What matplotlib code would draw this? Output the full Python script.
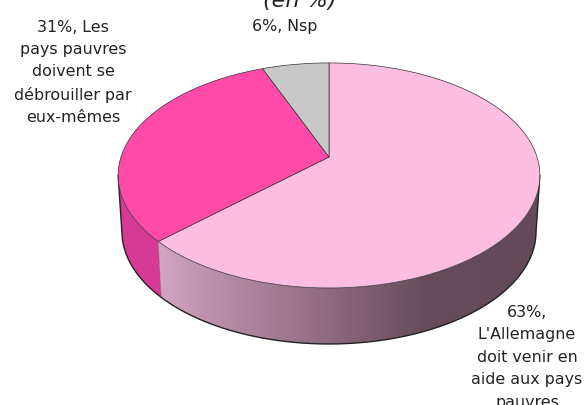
import numpy as np
import matplotlib
matplotlib.use("Agg")
import matplotlib.pyplot as plt
from matplotlib.colors import LinearSegmentedColormap
from matplotlib.patches import Polygon

shares = [63, 31, 6]
labels = ["63%,\nL'Allemagne\ndoit venir en\naide aux pays\npauvres",
          "31%, Les\npays pauvres\ndoivent se\ndébrouiller par\neux-mêmes",
          "6%, Nsp"]
colors = ["#FBBDE0", "#FF4AA8", "#C8C8C8"]
subtitle = "(en %)"

plt.rcParams['font.family'] = ['DejaVu Sans']

# perspective projection of the pie disc, fitted on the picture
cx, cy = 329, 157
B, A, k = 208, 109.5, 0.164
depth = 56


def project(t, drop=0.0):
    c, s = np.cos(t), np.sin(t)
    d = 1 + k * s
    shrink = 1 - 0.018 * drop / depth
    return cx + shrink * B * c / d, cy - A * s / d + drop


fig = plt.figure(figsize=(5.84, 4.05), dpi=100)
ax = fig.add_axes([0, 0, 1, 1])
ax.set_xlim(0, 584)
ax.set_ylim(405, 0)
ax.axis('off')

# slice limits, clockwise from the top
cuts = np.cumsum([0] + shares) / 100
angles = np.pi / 2 - 2 * np.pi * cuts

# side wall of each slice, only the part facing us (down to the widest points)
side_cm = LinearSegmentedColormap.from_list(
    "side", [(0, "#D2A6C0"), (0.12, "#BE92AC"), (0.45, "#8E6A7E"), (0.7, "#664C5A"), (1, "#644A58")])
grad = np.linspace(0, 1, 400).reshape(1, -1)
for i in range(2):
    t = np.linspace(angles[i], angles[i + 1], 400)
    t = t[np.sin(t) < -k]
    x1, y1 = project(t)
    x2, y2 = project(t[::-1], depth)
    wall = Polygon(np.column_stack([np.r_[x1, x2], np.r_[y1, y2]]), closed=True,
                   facecolor="#D63A94" if i == 1 else "none", edgecolor="none", zorder=1)
    ax.add_patch(wall)
    if i == 0:
        im = ax.imshow(grad, cmap=side_cm, extent=[158, 540, 345, 180], aspect='auto', zorder=1)
        im.set_clip_path(wall)
        ax.set_xlim(0, 584)
        ax.set_ylim(405, 0)

# outer outline of the wall
t = np.linspace(np.pi, 2 * np.pi, 400)
t = t[np.sin(t) < -k]
x1, y1 = project(t)
x2, y2 = project(t, depth)
ax.plot(np.r_[x1[0], x2, x1[-1]], np.r_[y1[0], y2, y1[-1]], color="#222222", lw=1.0, zorder=2)
x3, y3 = project(angles[1])
x4, y4 = project(angles[1], depth)
ax.plot([x3, x4], [y3, y4], color="#555555", lw=0.5, ls=':', zorder=2)

# top of the pie
for i in range(3):
    t = np.linspace(angles[i], angles[i + 1], 300)
    x, y = project(t)
    pts = np.column_stack([np.r_[cx, x], np.r_[cy, y]])
    ax.add_patch(Polygon(pts, closed=True, facecolor=colors[i], edgecolor="#333333", lw=0.5, zorder=3))

ax.text(527, 305, labels[0], ha='center', va='top', fontsize=11.4, color="#222222", linespacing=1.62)
ax.text(73, 19.5, labels[1], ha='center', va='top', fontsize=11.4, color="#222222", linespacing=1.6)
ax.text(285, 19.5, labels[2], ha='center', va='top', fontsize=11.4, color="#222222")
ax.text(300, 7, subtitle, ha='center', va='baseline', fontsize=16, style='italic', color="#222222")

fig.savefig("out.png", dpi=100)
